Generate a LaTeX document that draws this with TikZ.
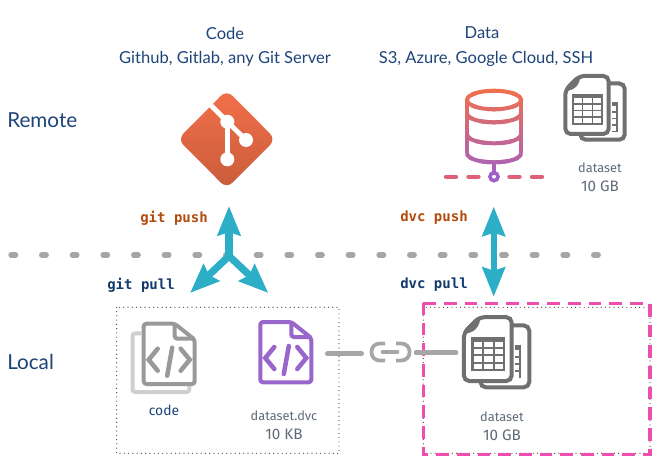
\documentclass[tikz,border=0pt]{standalone}
\usepackage{fontspec}
\setmainfont{Lato}
\newfontfamily\smallfont{Fira Sans}
\setmonofont{DejaVu Sans Mono}
\usetikzlibrary{arrows.meta}
\definecolor{headblue}{HTML}{1D4479}
\definecolor{labelgrey}{HTML}{5F6B78}
\definecolor{pushcol}{HTML}{B34A0B}
\definecolor{pullcol}{HTML}{123A6D}
\definecolor{arrowcol}{HTML}{2CAEC6}
\definecolor{sepgrey}{HTML}{A6A6A6}
\definecolor{tablegrey}{HTML}{707070}
\definecolor{codegrey}{HTML}{999999}
\definecolor{pagegrey}{HTML}{CFCFCF}
\definecolor{dvcviolet}{HTML}{9966CC}
\definecolor{boxpink}{HTML}{EE4FAE}
\definecolor{dbtop}{HTML}{F0704A}
\definecolor{dbbot}{HTML}{A060C8}
\definecolor{dbdash}{HTML}{DE6078}
\definecolor{gittop}{HTML}{F2704A}
\definecolor{gitbot}{HTML}{C95C3B}
\tikzset{head/.style={text=headblue, inner sep=0pt, font=\fontsize{12.4}{14}\selectfont},
         side/.style={text=headblue, inner sep=0pt, font=\fontsize{15.5}{18}\selectfont},
         small/.style={text=labelgrey, inner sep=0pt, font=\smallfont\fontsize{9.6}{11}\selectfont},
         size/.style={text=labelgrey, inner sep=0pt, font=\smallfont\fontsize{11.4}{13}\selectfont},
         cmd/.style={inner sep=0pt, font=\ttfamily\bfseries\fontsize{10.5}{12}\selectfont},
         flow/.style={draw=arrowcol, line width=5.4pt, line cap=round,
                      -{Stealth[length=22pt, width=17pt, inset=2.5pt]}},
         link/.style={draw=sepgrey, line width=3.4pt, line cap=round},
         dotbox/.style={draw=black!75, line width=0.9pt, line cap=round, dash pattern=on 0pt off 3.2pt},
         pics/codefile/.style={code={
            \draw[#1, line width=3pt, line join=round, rounded corners=2pt]
                (2,2) -- (33,2) -- (53,18) -- (53,62.3) -- (2,62.3) -- cycle;
            \draw[#1, line width=3pt, rounded corners=2pt] (33,2) -- (33,17) -- (53,17);
            \draw[#1, line width=3.4pt, line cap=round, line join=miter]
                (16,27) -- (7,38) -- (16,49)
                (39,27) -- (48,38) -- (39,49)
                (30.5,26) -- (25.5,54);
         }},
         pics/tablefile/.style={code={
            \draw[tablegrey, line width=3pt, fill=white, rounded corners=4pt]
                (17,9.5) rectangle (61.4,65.7);
            \fill[tablegrey] (48.3,27.7) rectangle (54.3,57.7);
            \foreach \r in {0,...,3}
                \fill[white] (48.3,32+6.7*\r) rectangle (52.5,37+6.7*\r);
            \draw[tablegrey, line width=3pt, fill=white, rounded corners=4pt]
                (16,2) -- (45.4,2) -- (45.4,60) -- (2,60) -- (2,16) -- cycle;
            \fill[tablegrey] (17,1) .. controls (17,11) and (11,17) .. (1,17) -- cycle;
            \fill[tablegrey] (8.3,20) rectangle (39.3,51);
            \foreach \c/\w in {11/7.3, 20/8.3, 30/7.3}
                \foreach \r in {0,...,3}
                    \fill[white] (\c,24.3+6.6*\r) rectangle (\c+\w,29.3+6.6*\r);
         }}}

\begin{document}
\begin{tikzpicture}[x=0.75pt, y=-0.75pt]
    \useasboundingbox (0,0) rectangle (659,466);

    % Titles
    \node[head] (codetitle) at (225,33) {Code};
    \node[head] (codesub) at (225,59) {Github, Gitlab, any Git Server};
    \node[head] (datatitle) at (482,33) {Data};
    \node[head] (datasub) at (486,59) {S3, Azure, Google Cloud, SSH};
    \node[side, anchor=west] (remote) at (7,120) {Remote};
    \node[side, anchor=west] (local) at (7,362) {Local};

    % Separator
    \coordinate (sepleft) at (11,255);
    \coordinate (sepright) at (602,255);
    \draw[sepgrey, line width=4pt, line cap=round, dash pattern=on 3.4pt off 19.6pt] (sepleft) -- (sepright);

    % Git logo
    \draw[rounded corners=6pt, draw=none, top color=gittop, bottom color=gitbot]
        (226.7,90) -- (275.7,139.3) -- (226.7,188.5) -- (177.7,139.3) -- cycle;
    \draw[white, line width=3.6pt] (209,103.4) -- (227.3,121.7) -- (246,140);
    \draw[white, line width=3.6pt] (227.3,121.7) -- (227.3,159.3);
    \foreach \p in {(227.3,121.7), (246,140), (227.3,159.3)}
        \fill[white] \p circle (7);

    % Database
    \foreach \k in {0,...,23} {
        \pgfmathsetmacro\mixval{100*\k/23}
        \begin{scope}
            \clip (455,88+4*\k) rectangle (533,92.3+4*\k);
            \begin{scope}[dbbot!\mixval!dbtop, line width=3pt]
                \draw (494,100) ellipse (27 and 9.3);
                \draw (467,100) -- (467,153) (521,100) -- (521,153);
                \foreach \y in {113,134,153}
                    \draw (467,\y) .. controls (467,\y+6) and (480,\y+9.3) .. (494,\y+9.3)
                        .. controls (508,\y+9.3) and (521,\y+6) .. (521,\y);
                \draw (494,162) -- (494,172);
            \end{scope}
        \end{scope}
    }
    \coordinate (netleft) at (446,176.7);
    \coordinate (netright) at (542,176.7);
    \draw[dbdash, line width=3.2pt, line cap=round] (netleft) -- ++(10,0) (468.5,176.7) -- ++(10,0)
        (509.5,176.7) -- ++(10,0) (532,176.7) -- (netright);
    \draw[dbbot, line width=2.7pt, fill=white] (494,176.7) circle (4);

    % Remote dataset
    \pic at (563.3,74) {tablefile};
    \node[small] (remotename) at (600,168) {dataset};
    \node[size] (remotesize) at (600,186) {10 GB};

    % Push and pull
    \node[cmd, text=pushcol, anchor=east] (gitpush) at (208,218) {git push};
    \node[cmd, text=pullcol, anchor=east] (gitpull) at (175,285) {git pull};
    \node[cmd, text=pushcol, anchor=west] (dvcpush) at (400,218) {dvc push};
    \node[cmd, text=pullcol, anchor=west] (dvcpull) at (400,285) {dvc pull};

    \coordinate (fork) at (229,256);
    \coordinate (forktop) at (229,206);
    \coordinate (forkleft) at (190,293);
    \coordinate (forkright) at (268.3,293);
    \draw[flow] (fork) -- (forktop);
    \draw[flow] (fork) -- (forkleft);
    \draw[flow] (fork) -- (forkright);

    \coordinate (dvcmid) at (493.7,252);
    \coordinate (dvctop) at (493.7,206.7);
    \coordinate (dvcbot) at (493.7,296.7);
    \draw[flow, line width=4.4pt] (dvcmid) -- (dvctop);
    \draw[flow, line width=4.4pt] (dvcmid) -- (dvcbot);

    % Local boxes
    \draw[dotbox] (116.7,307.3) rectangle (339,453.3);
    \draw[dotbox] (423.3,307.3) rectangle (650,453.3);
    \draw[boxpink, line width=2.4pt, dash pattern=on 9.5pt off 6pt] (423.3,303.3) -- (650,303.3) -- (650,454.3) -- (423.3,454.3) -- cycle;

    % Code files
    \draw[pagegrey, line width=3pt, rounded corners=2pt] (141,333.3) -- (132.5,333.3) -- (132.5,392) -- (189.3,392) -- (189.3,385);
    \pic at (141.7,321.7) {codefile=codegrey};
    \node[small, text=headblue, font=\smallfont\fontsize{10.4}{12}\selectfont] (codename) at (164,410) {code};

    \pic at (258.3,320) {codefile=dvcviolet};
    \node[small] (dvcname) at (284,416) {dataset.dvc};
    \node[size] (dvcsize) at (284,434) {10 KB};

    % Link
    \coordinate (linka) at (327.3,353.7);
    \coordinate (linkb) at (361.7,353.7);
    \coordinate (linkc) at (416,352.7);
    \coordinate (linkd) at (456,352.7);
    \draw[link] (linka) -- (linkb);
    \draw[link] (linkc) -- (linkd);
    \draw[link, line width=2.8pt, line cap=butt, rounded corners=6pt] (385,343.5) -- (371.5,343.5) -- (371.5,360.5) -- (385,360.5);
    \draw[link, line width=2.8pt, line cap=butt, rounded corners=6pt] (396,343.5) -- (409.5,343.5) -- (409.5,360.5) -- (396,360.5);
    \draw[link, line width=2.8pt] (382.5,351.7) -- (397.5,351.7);

    % Local dataset
    \pic[scale=1.1] at (461.7,315) {tablefile};
    \node[small] (localname) at (502,417) {dataset};
    \node[size] (localsize) at (502,435) {10 GB};
\end{tikzpicture}
\end{document}
